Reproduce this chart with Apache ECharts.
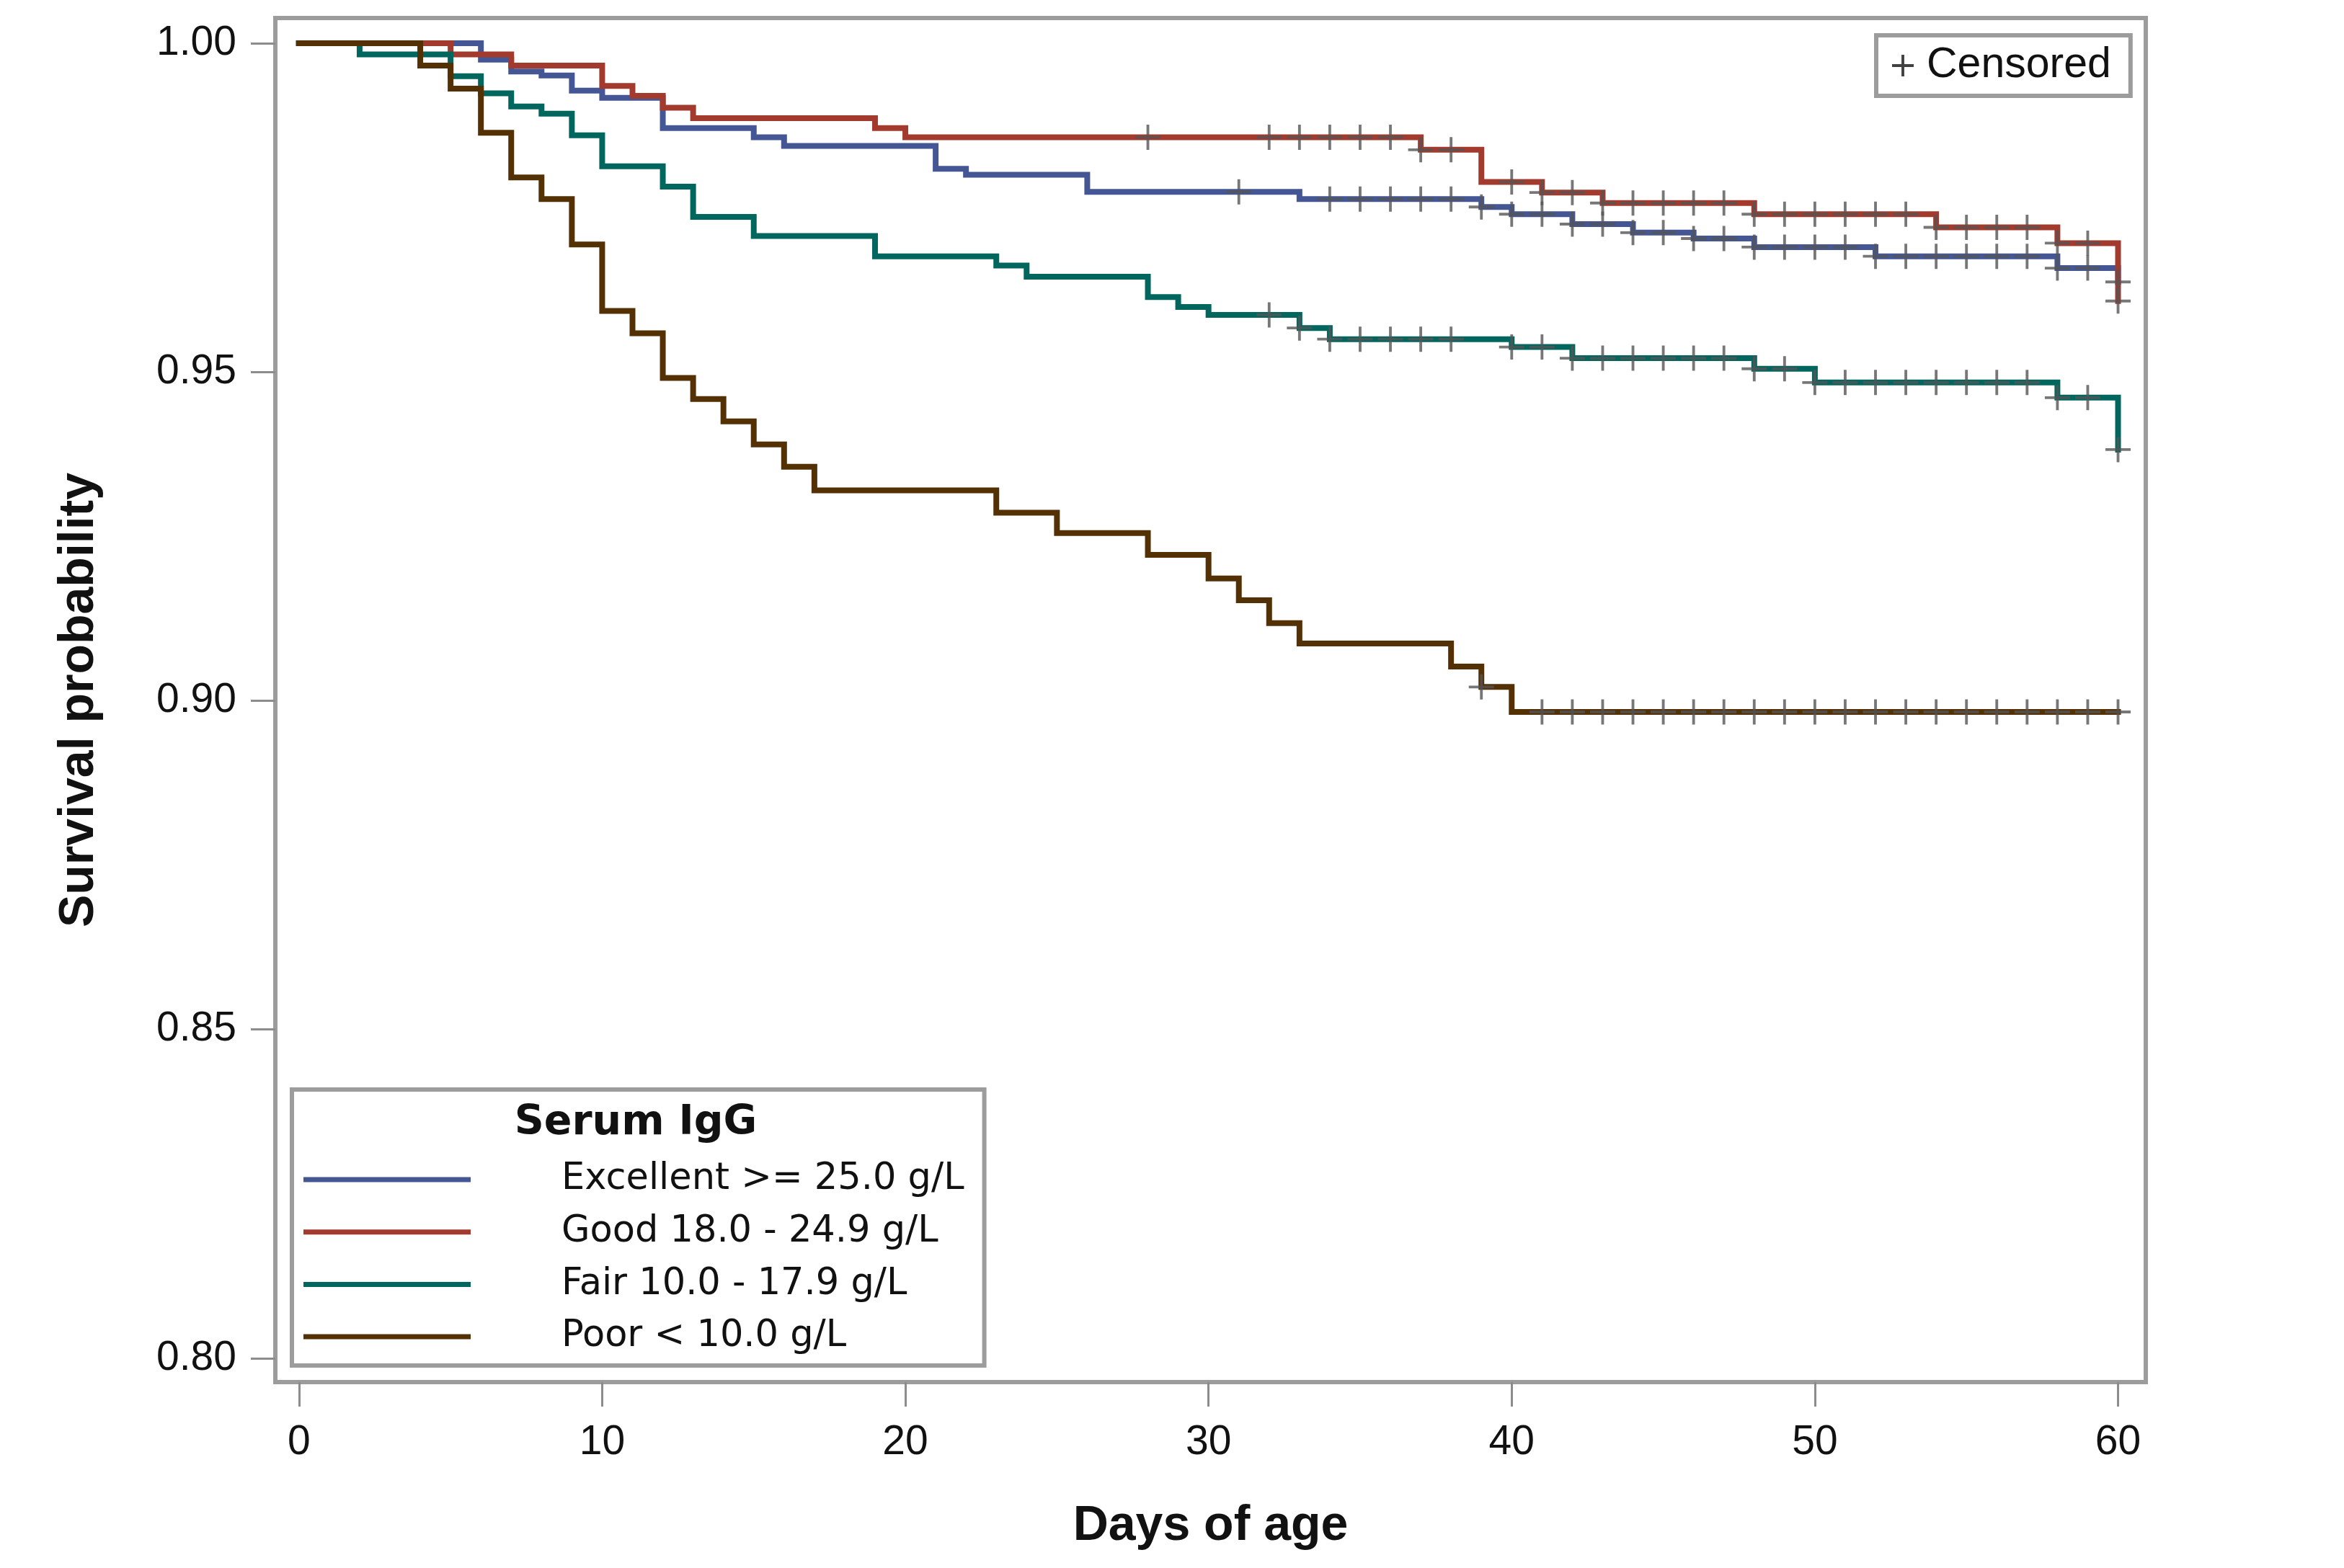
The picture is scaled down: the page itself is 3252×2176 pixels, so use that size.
<!DOCTYPE html>
<html>
<head>
<meta charset="utf-8">
<script src="https://cdn.jsdelivr.net/npm/echarts@6/dist/echarts.min.js"></script>
<style>
html,body{margin:0;padding:0;background:#fff;}
#chart{width:3252px;height:2176px;}
</style>
</head>
<body>
<div id="chart"></div>
<script>
// ---- Data ----
const groupNames = ['Excellent >= 25.0 g/L', 'Good 18.0 - 24.9 g/L', 'Fair 10.0 - 17.9 g/L', 'Poor < 10.0 g/L'];
const groupColors = ['#445694', '#A23A2E', '#01665E', '#543005'];

const excellentTimes = [0, 6, 7, 8, 9, 10, 12, 15, 16, 21, 22, 26, 33, 39, 40, 42, 44, 46, 48, 52, 58, 60];
const excellentSurv  = [1, 0.9975, 0.9957, 0.9951, 0.9928, 0.9917, 0.9871, 0.9857, 0.9844, 0.9809, 0.9800, 0.9774, 0.9763, 0.9751, 0.9740, 0.9725, 0.9712, 0.9703, 0.9690, 0.9676, 0.9658, 0.9637];
const excellentCensor = [31, 34, 35, 36, 37, 38, 39, 40, 41, 42, 43, 44, 45, 46, 47, 48, 49, 50, 51, 52, 53, 54, 55, 56, 57, 58, 59, 60];

const goodTimes = [0, 5, 7, 10, 11, 12, 13, 19, 20, 37, 39, 41, 43, 48, 54, 58, 60];
const goodSurv  = [1, 0.9983, 0.9966, 0.9935, 0.9920, 0.9902, 0.9886, 0.9871, 0.9857, 0.9838, 0.9789, 0.9773, 0.9757, 0.9740, 0.9720, 0.9696, 0.9608];
const goodCensor = [28, 32, 33, 34, 35, 36, 37, 38, 40, 41, 42, 43, 44, 45, 46, 47, 48, 49, 50, 51, 52, 53, 54, 55, 56, 57, 58, 59, 60];

const fairTimes = [0, 2, 5, 6, 7, 8, 9, 10, 12, 13, 15, 19, 23, 24, 28, 29, 30, 33, 34, 40, 42, 48, 50, 58, 60];
const fairSurv  = [1, 0.9983, 0.9950, 0.9924, 0.9904, 0.9893, 0.9860, 0.9813, 0.9782, 0.9736, 0.9707, 0.9676, 0.9662, 0.9645, 0.9614, 0.9599, 0.9587, 0.9567, 0.9550, 0.9538, 0.9521, 0.9505, 0.9484, 0.9461, 0.9382];
const fairCensor = [32, 33, 34, 35, 36, 37, 38, 40, 41, 42, 43, 44, 45, 46, 47, 48, 49, 50, 51, 52, 53, 54, 55, 56, 57, 58, 59, 60];

const poorTimes = [0, 4, 5, 6, 7, 8, 9, 10, 11, 12, 13, 14, 15, 16, 17, 23, 25, 28, 30, 31, 32, 33, 38, 39, 40];
const poorSurv  = [1, 0.9966, 0.9931, 0.9864, 0.9796, 0.9763, 0.9694, 0.9593, 0.9559, 0.9491, 0.9459, 0.9425, 0.9390, 0.9356, 0.9320, 0.9286, 0.9255, 0.9222, 0.9186, 0.9153, 0.9118, 0.9087, 0.9052, 0.9021, 0.8983];
const poorCensor = [39, 41, 42, 43, 44, 45, 46, 47, 48, 49, 50, 51, 52, 53, 54, 55, 56, 57, 58, 59, 60];

const xTicks = [0, 10, 20, 30, 40, 50, 60];
const yTicks = [0.80, 0.85, 0.90, 0.95, 1.00];

// ---- Helpers ----
const groups = [
  {name: groupNames[0], color: groupColors[0], times: excellentTimes, surv: excellentSurv, censor: excellentCensor},
  {name: groupNames[1], color: groupColors[1], times: goodTimes, surv: goodSurv, censor: goodCensor},
  {name: groupNames[2], color: groupColors[2], times: fairTimes, surv: fairSurv, censor: fairCensor},
  {name: groupNames[3], color: groupColors[3], times: poorTimes, surv: poorSurv, censor: poorCensor}
];
function survAt(g, t) {
  let v = g.surv[0];
  for (let i = 0; i < g.times.length; i++) { if (g.times[i] <= t) v = g.surv[i]; }
  return v;
}
function stepData(g) {
  const d = g.times.map((t, i) => [t, g.surv[i]]);
  const lastC = Math.max.apply(null, g.censor);
  const lastT = g.times[g.times.length - 1];
  if (lastC > lastT) d.push([lastC, survAt(g, lastC)]);
  return d;
}
const censorPoints = [];
groups.forEach(g => g.censor.forEach(t => censorPoints.push([t, survAt(g, t)])));

const plusMark = 'path://M44.5,0H55.5V44.5H100V55.5H55.5V100H44.5V55.5H0V44.5H44.5Z';
const plusIcon = 'path://M43.5,0H56.5V43.5H100V56.5H56.5V100H43.5V56.5H0V43.5H43.5Z';

// draw order: Good, Fair, Excellent, Poor (Poor on top)
const drawOrder = [1, 2, 0, 3];
const lineSeries = drawOrder.map(k => {
  const g = groups[k];
  return {
    name: g.name, type: 'line', step: 'end', data: stepData(g),
    showSymbol: false, symbol: 'none', color: g.color,
    lineStyle: {color: g.color, width: 8, cap: 'square', join: 'miter'},
    z: 3 + k, silent: true
  };
});

const chart = echarts.init(document.getElementById('chart'), null, {renderer: 'canvas'});
chart.setOption({
  animation: false,
  backgroundColor: '#ffffff',
  grid: {left: 382, right: 275, top: 25, bottom: 258, show: true, borderColor: '#9c9c9c', borderWidth: 6, backgroundColor: 'transparent', containLabel: false},
  xAxis: {
    type: 'value', min: -0.78, max: 60.915,
    name: 'Days of age', nameLocation: 'middle', nameGap: 166,
    nameTextStyle: {fontFamily: 'Liberation Sans', fontWeight: 'bold', fontSize: 68, color: '#111'},
    splitLine: {show: false},
    axisLine: {show: false, onZero: false},
    axisTick: {show: true, length: 34, lineStyle: {color: '#8c8c8c', width: 3}, customValues: xTicks},
    axisLabel: {customValues: xTicks, margin: 56, fontSize: 57, fontFamily: 'Liberation Sans', color: '#111'}
  },
  yAxis: {
    type: 'value', min: 0.79638, max: 1.00384,
    name: 'Survival probability', nameLocation: 'middle', nameGap: 238, nameRotate: 90,
    nameTextStyle: {fontFamily: 'Liberation Sans', fontWeight: 'bold', fontSize: 68, color: '#111'},
    splitLine: {show: false},
    axisLine: {show: false, onZero: false},
    axisTick: {show: true, length: 34, lineStyle: {color: '#8c8c8c', width: 3}, customValues: yTicks},
    axisLabel: {customValues: yTicks, margin: 54, fontSize: 57, fontFamily: 'Liberation Sans', color: '#111',
      formatter: v => Number(v).toFixed(2)}
  },
  legend: [
    {
      data: groupNames, orient: 'vertical', left: 405, top: 1512,
      icon: 'rect', itemWidth: 232, itemHeight: 7, itemGap: 12.7,
      padding: [95, 28, 10, 16],
      borderColor: '#9c9c9c', borderWidth: 6, backgroundColor: '#fff',
      textStyle: {fontFamily: 'DejaVu Sans', fontSize: 51, lineHeight: 60, color: '#111', padding: [0, 0, 0, 121]},
      selectedMode: false
    },
    {
      data: [{name: 'Censored', icon: plusIcon, itemStyle: {color: '#111'}}],
      orient: 'horizontal', left: 2603, top: 49,
      itemWidth: 30, itemHeight: 30,
      padding: [12, 27, 12, 22],
      borderColor: '#9c9c9c', borderWidth: 6, backgroundColor: '#fff',
      textStyle: {fontFamily: 'Liberation Sans', fontSize: 59, lineHeight: 60, color: '#111', padding: [0, 0, 0, 13]},
      selectedMode: false
    }
  ],
  graphic: [
    {type: 'text', z: 100, style: {text: 'Serum IgG', x: 882, y: 1559, align: 'center', verticalAlign: 'middle',
      fontSize: 57, fontWeight: 'bold', fontFamily: 'DejaVu Sans', fill: '#111'}}
  ],
  series: lineSeries.concat([{
    name: 'Censored', type: 'scatter', data: censorPoints,
    symbol: plusMark, symbolSize: 35, itemStyle: {color: '#555555'}, z: 10, silent: true
  }])
});
</script>
</body>
</html>
